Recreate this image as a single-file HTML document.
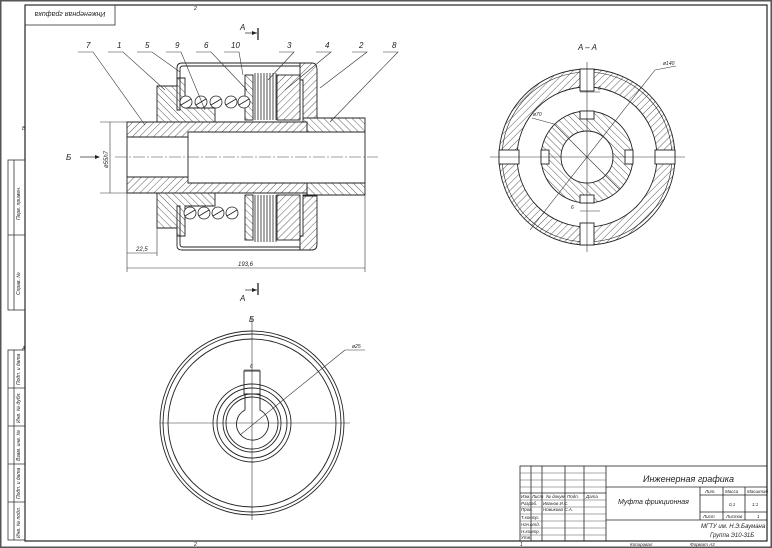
<!DOCTYPE html>
<html><head><meta charset="utf-8"><style>
html,body{margin:0;padding:0;background:#fff}
svg{display:block}
text{font-family:"Liberation Sans","DejaVu Sans",sans-serif;font-style:italic;fill:#222}
</style></head><body>
<svg width="772" height="548" viewBox="0 0 772 548" xmlns="http://www.w3.org/2000/svg">
<defs>
<pattern id="h" width="5" height="5" patternUnits="userSpaceOnUse" patternTransform="rotate(45)"><line x1="0" y1="0" x2="0" y2="5" stroke="#333" stroke-width="0.8"/></pattern>
<pattern id="h2" width="5" height="5" patternUnits="userSpaceOnUse" patternTransform="rotate(-45)"><line x1="0" y1="0" x2="0" y2="5" stroke="#333" stroke-width="0.8"/></pattern>
</defs>
<rect x="0.5" y="0.5" width="771" height="547" fill="#fff" stroke="#555" stroke-width="2"/>
<rect x="25" y="5" width="742" height="536" fill="none" stroke="#222" stroke-width="1.2"/>
<rect x="25" y="5" width="90" height="20" fill="none" stroke="#333" stroke-width="0.8"/>
<text x="70" y="18" font-size="7" text-anchor="middle" transform="rotate(180 70 15)">Инженерная графика</text>
<g stroke="#333" stroke-width="0.8" fill="none">
<rect x="8" y="160" width="17" height="150"/><line x1="8" y1="235" x2="25" y2="235"/>
<rect x="8" y="350" width="17" height="190"/>
<line x1="8" y1="388" x2="25" y2="388"/><line x1="8" y1="426" x2="25" y2="426"/><line x1="8" y1="464" x2="25" y2="464"/><line x1="8" y1="502" x2="25" y2="502"/>
<line x1="14" y1="160" x2="14" y2="310"/><line x1="14" y1="350" x2="14" y2="540"/>
</g>
<g font-size="5">
<text transform="translate(20 220) rotate(-90)">Перв. примен.</text>
<text transform="translate(20 295) rotate(-90)">Справ. №</text>
<text transform="translate(20 385) rotate(-90)">Подп. и дата</text>
<text transform="translate(20 423) rotate(-90)">Инв. № дубл.</text>
<text transform="translate(20 461) rotate(-90)">Взам. инв. №</text>
<text transform="translate(20 499) rotate(-90)">Подп. и дата</text>
<text transform="translate(20 538) rotate(-90)">Инв. № подл.</text>
</g>
<g font-size="5"><text x="194" y="10">2</text><text x="194" y="546">2</text><text x="22" y="130">В</text><text x="22" y="350">А</text><text x="520" y="546">1</text></g>

<!-- ===== MAIN VIEW ===== -->
<g stroke="#222" stroke-width="0.9">
<!-- housing 5 thin cup -->
<path d="M182 63 H300 V66 H183 Q180 66 180 69 V110 H177 V68 Q177 63 182 63 Z" fill="#fff"/>
<path d="M177 206 V246 Q177 250 182 250 H300 V247 H183 Q180 247 180 244 V206 Z" fill="#fff"/>
<!-- right flange -->
<path d="M300 63 H312 Q317 63 317 70 V118 H303 V80 H300 Z" fill="url(#h)"/>
<path d="M303 196 H317 V244 Q317 250 312 250 H300 V236 H303 Z" fill="url(#h)"/>
<!-- hub 1 -->
<path d="M157 86 H177 V78 H185 V108 H215 V122 H157 Z" fill="url(#h2)"/>
<path d="M157 193 H215 V206 H185 V236 H177 V228 H157 Z" fill="url(#h2)"/>
<!-- plates -->
<rect x="245" y="75" width="8" height="45" fill="url(#h2)"/>
<rect x="245" y="195" width="8" height="45" fill="url(#h2)"/>
<rect x="277" y="75" width="23" height="45" fill="url(#h)"/>
<rect x="277" y="195" width="23" height="45" fill="url(#h)"/>
<!-- shaft 7 -->
<path d="M127 122 H307 V132 H188 V137 H127 Z" fill="url(#h)"/>
<path d="M127 177 H188 V183 H307 V193 H127 Z" fill="url(#h)"/>
<!-- shaft 2 -->
<path d="M303 118 H365 V132 H307 V122 H303 Z" fill="url(#h2)"/>
<path d="M303 196 H307 V183 H365 V195 H303 Z" fill="url(#h2)"/>
<line x1="127" y1="137" x2="127" y2="177"/><line x1="365" y1="132" x2="365" y2="183"/>
<line x1="188" y1="137" x2="188" y2="177"/>
</g>
<g stroke="#222" stroke-width="0.8">
<line x1="255" y1="73" x2="255" y2="120"/><line x1="258" y1="73" x2="258" y2="120"/><line x1="261" y1="73" x2="261" y2="120"/><line x1="264" y1="73" x2="264" y2="120"/><line x1="267" y1="73" x2="267" y2="120"/><line x1="270" y1="73" x2="270" y2="120"/><line x1="273" y1="73" x2="273" y2="120"/><line x1="276" y1="73" x2="276" y2="120"/>
<line x1="255" y1="195" x2="255" y2="242"/><line x1="258" y1="195" x2="258" y2="242"/><line x1="261" y1="195" x2="261" y2="242"/><line x1="264" y1="195" x2="264" y2="242"/><line x1="267" y1="195" x2="267" y2="242"/><line x1="270" y1="195" x2="270" y2="242"/><line x1="273" y1="195" x2="273" y2="242"/><line x1="276" y1="195" x2="276" y2="242"/>
</g>
<g stroke="#222" stroke-width="0.8" fill="#fff">
<circle cx="186" cy="102" r="6"/><circle cx="201" cy="102" r="6"/><circle cx="216" cy="102" r="6"/><circle cx="231" cy="102" r="6"/><circle cx="244" cy="102" r="6"/>
<circle cx="190" cy="213" r="6"/><circle cx="204" cy="213" r="6"/><circle cx="218" cy="213" r="6"/><circle cx="232" cy="213" r="6"/>
<path d="M181 105 L191 99 M196 105 L206 99 M211 105 L221 99 M226 105 L236 99 M239 105 L249 99 M185 216 L195 210 M199 216 L209 210 M213 216 L223 210 M227 216 L237 210"/>
</g>
<line x1="115" y1="157" x2="378" y2="157" stroke="#444" stroke-width="0.6" stroke-dasharray="12 2 2 2"/>
<g stroke="#333" stroke-width="0.6" fill="none">
<path d="M78 52 H93 L145 125"/><path d="M108 52 H123 L165 90"/><path d="M137 52 H152 L180 72"/><path d="M166 52 H181 L205 110"/>
<path d="M196 52 H211 L247 90"/><path d="M224 52 H239 L243 75"/><path d="M279 52 H294 L268 80"/><path d="M316 52 H331 L285 90"/>
<path d="M352 52 H367 L320 88"/><path d="M383 52 H398 L330 122"/>
</g>
<g font-size="8"><text x="86" y="48">7</text><text x="117" y="48">1</text><text x="145" y="48">5</text><text x="175" y="48">9</text><text x="204" y="48">6</text><text x="231" y="48">10</text><text x="287" y="48">3</text><text x="325" y="48">4</text><text x="359" y="48">2</text><text x="392" y="48">8</text></g>
<g stroke="#222" stroke-width="1.3"><line x1="258" y1="28" x2="258" y2="40"/><line x1="258" y1="283" x2="258" y2="295"/></g>
<g stroke="#222" stroke-width="0.7"><line x1="245" y1="33" x2="257" y2="33"/><line x1="245" y1="290" x2="257" y2="290"/><line x1="80" y1="157" x2="96" y2="157"/></g>
<path d="M257 33 l-5 -2 v4z M257 290 l-5 -2 v4z M100 157 l-5 -2 v4z" fill="#222"/>
<text x="240" y="30" font-size="8">A</text><text x="240" y="301" font-size="8">A</text><text x="66" y="160" font-size="8">Б</text>
<g stroke="#333" stroke-width="0.6">
<line x1="100" y1="122" x2="127" y2="122"/><line x1="100" y1="193" x2="127" y2="193"/><line x1="110" y1="122" x2="110" y2="193"/>
<line x1="127" y1="193" x2="127" y2="272"/><line x1="157" y1="228" x2="157" y2="256"/><line x1="365" y1="195" x2="365" y2="272"/>
<line x1="127" y1="253" x2="157" y2="253"/><line x1="127" y1="268" x2="365" y2="268"/>
</g>
<text transform="translate(108 168) rotate(-90)" font-size="6">ø55h7</text>
<text x="136" y="251" font-size="6">22,5</text><text x="238" y="266" font-size="6">193,6</text>

<!-- ===== SECTION A-A ===== -->
<text x="578" y="50" font-size="8">A – A</text>
<g stroke="#222" stroke-width="0.9">
<path d="M675 157 A88 88 0 1 0 499 157 A88 88 0 1 0 675 157 Z M657 157 A70 70 0 1 1 517 157 A70 70 0 1 1 657 157 Z" fill="url(#h)" fill-rule="evenodd"/>
<circle cx="587" cy="157" r="85" fill="none" stroke-width="0.6"/>
<path d="M633 157 A46 46 0 1 0 541 157 A46 46 0 1 0 633 157 Z M613 157 A26 26 0 1 1 561 157 A26 26 0 1 1 613 157 Z" fill="url(#h2)" fill-rule="evenodd"/>
<g fill="#fff"><rect x="580" y="69" width="14" height="22"/><rect x="580" y="223" width="14" height="22"/><rect x="499" y="150" width="20" height="14"/><rect x="655" y="150" width="20" height="14"/>
<rect x="580" y="111" width="14" height="8"/><rect x="580" y="195" width="14" height="8"/><rect x="541" y="150" width="8" height="14"/><rect x="625" y="150" width="8" height="14"/></g>
</g>
<g stroke="#333" stroke-width="0.6"><line x1="490" y1="157" x2="685" y2="157"/><line x1="587" y1="62" x2="587" y2="252"/>
<line x1="530" y1="230" x2="655" y2="70"/><line x1="655" y1="70" x2="676" y2="66"/><line x1="554" y1="124" x2="620" y2="190"/><line x1="554" y1="124" x2="532" y2="118"/>
<line x1="580" y1="92" x2="600" y2="92"/><line x1="580" y1="211" x2="600" y2="211"/></g>
<g font-size="5"><text x="663" y="65">ø140</text><text x="533" y="116">ø70</text><text x="598" y="90">6</text><text x="571" y="209">6</text></g>

<!-- ===== VIEW Б ===== -->
<text x="249" y="322" font-size="8">Б</text>
<g stroke="#222" stroke-width="0.9" fill="none">
<circle cx="252" cy="423" r="92"/><circle cx="252" cy="423" r="89"/><circle cx="252" cy="423" r="84"/>
<circle cx="252" cy="423" r="39"/><circle cx="252" cy="423" r="35"/><circle cx="252" cy="423" r="29"/><circle cx="252" cy="423" r="26"/>
<path d="M260 410 A16 16 0 1 1 245 410 V394 H260 Z"/>
<rect x="244" y="371" width="16" height="23"/>
</g>
<g stroke="#333" stroke-width="0.6"><line x1="160" y1="423" x2="350" y2="423"/><line x1="252" y1="317" x2="252" y2="520"/>
<line x1="240" y1="435" x2="345" y2="350"/><line x1="345" y1="350" x2="365" y2="350"/><line x1="244" y1="370" x2="260" y2="370"/></g>
<text x="352" y="348" font-size="5">ø25</text><text x="250" y="368" font-size="5">6</text>

<!-- ===== TITLE BLOCK ===== -->
<g stroke="#222" stroke-width="0.8" fill="none">
<rect x="520" y="466" width="247" height="75"/>
<line x1="606" y1="466" x2="606" y2="541"/>
<line x1="606" y1="487" x2="767" y2="487"/>
<line x1="520" y1="493" x2="606" y2="493"/>
<line x1="700" y1="487" x2="700" y2="520"/>
<line x1="700" y1="495" x2="767" y2="495"/><line x1="700" y1="512" x2="767" y2="512"/><line x1="700" y1="520" x2="767" y2="520"/>
<line x1="723" y1="487" x2="723" y2="520"/><line x1="745" y1="487" x2="745" y2="520"/>
<line x1="606" y1="520" x2="700" y2="520"/>
<line x1="531" y1="466" x2="531" y2="541"/><line x1="542" y1="466" x2="542" y2="541"/><line x1="565" y1="466" x2="565" y2="541"/><line x1="584" y1="466" x2="584" y2="541"/>
</g>
<g stroke="#555" stroke-width="0.5">
<line x1="520" y1="473" x2="606" y2="473"/><line x1="520" y1="480" x2="606" y2="480"/><line x1="520" y1="487" x2="606" y2="487"/>
<line x1="520" y1="500" x2="606" y2="500"/><line x1="520" y1="507" x2="606" y2="507"/><line x1="520" y1="514" x2="606" y2="514"/><line x1="520" y1="521" x2="606" y2="521"/><line x1="520" y1="528" x2="606" y2="528"/><line x1="520" y1="535" x2="606" y2="535"/>
</g>
<text x="643" y="482" font-size="9">Инженерная графика</text>
<text x="618" y="504" font-size="7">Муфта фрикционная</text>
<g font-size="4.5"><text x="521" y="498">Изм. Лист</text><text x="546" y="498">№ докум.</text><text x="567" y="498">Подп.</text><text x="586" y="498">Дата</text>
<text x="521" y="505">Разраб.</text><text x="543" y="505">Иванов И.С.</text><text x="521" y="511">Пров.</text><text x="543" y="511">Новикова С.А.</text>
<text x="521" y="519">Т.контр.</text><text x="521" y="526">Нач.отд.</text><text x="521" y="533">Н.контр.</text><text x="521" y="539">Утв.</text>
<text x="705" y="493">Лит.</text><text x="725" y="493">Масса</text><text x="747" y="493">Масштаб</text>
<text x="729" y="506">0,1</text><text x="752" y="506">1:1</text>
<text x="703" y="518">Лист</text><text x="726" y="518">Листов</text><text x="757" y="518">1</text>
<text x="630" y="546">Копировал</text><text x="690" y="546">Формат А3</text></g>
<text x="701" y="528" font-size="6">МГТУ им. Н.Э.Баумана</text>
<text x="710" y="537" font-size="6">Группа Э10-31Б</text>
</svg>
</body></html>
